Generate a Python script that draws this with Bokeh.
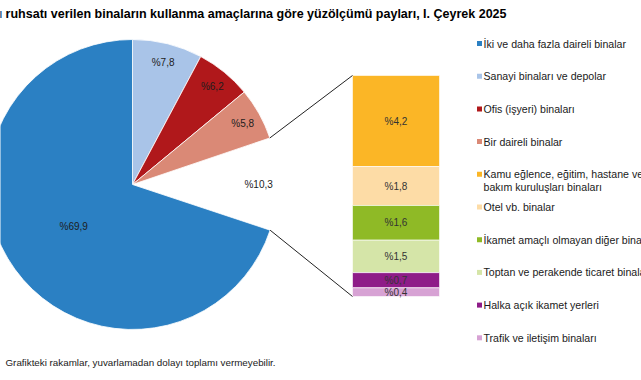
import math
from bokeh.plotting import figure
from bokeh.models import Range1d, ColumnDataSource
from bokeh.core.properties import value
from bokeh.embed import file_html
from bokeh.resources import INLINE

# ---------------- data ----------------
title_text = "Yapı ruhsatı verilen binaların kullanma amaçlarına göre yüzölçümü payları, I. Çeyrek 2025"
footnote_text = "Grafikteki rakamlar, yuvarlamadan dolayı toplamı vermeyebilir."

# pie slices, clockwise from 12 o'clock
pie_names = ["Sanayi binaları ve depolar", "Ofis (işyeri) binaları", "Bir daireli binalar",
             "Diğer", "İki ve daha fazla daireli binalar"]
pie_values = [7.8, 6.2, 5.8, 10.3, 69.9]
pie_colors = ["#A9C4E8", "#B0181B", "#DA8976", None, "#2B80C3"]

# breakdown of "Diğer" (top to bottom)
bar_names = ["Kamu eğlence, eğitim, hastane ve\nbakım kuruluşları binaları", "Otel vb. binalar",
             "İkamet amaçlı olmayan diğer binalar", "Toptan ve perakende ticaret binaları",
             "Halka açık ikamet yerleri", "Trafik ve iletişim binaları"]
bar_values = [4.2, 1.8, 1.6, 1.5, 0.7, 0.4]
bar_colors = ["#FBB626", "#FDDCA6", "#8FBA26", "#D5E5A8", "#8E1C88", "#D7A2D4"]

legend_names = ["İki ve daha fazla daireli binalar", "Sanayi binaları ve depolar",
                "Ofis (işyeri) binaları", "Bir daireli binalar"] + bar_names
legend_colors = ["#2B80C3", "#A9C4E8", "#B0181B", "#DA8976"] + bar_colors


def fmt(v):
    return "%" + f"{v:.1f}".replace(".", ",")


FONT = "Liberation Sans"
W, H = 641, 380

p = figure(width=W, height=H, x_range=Range1d(0, W), y_range=Range1d(0, H),
           output_backend="svg", toolbar_location=None, min_border=0,
           x_axis_type=None, y_axis_type=None, outline_line_color=None)
p.grid.visible = False

# ---------------- pie ----------------
cx, cy, R = 132, 196, 145
total = sum(pie_values)
starts, ends, lx, ly = [], [], [], []
cum = 0.0
for v in pie_values:
    a0 = 90 - cum / total * 360
    a1 = 90 - (cum + v) / total * 360
    starts.append(a0)
    ends.append(a1)
    mid = math.radians((a0 + a1) / 2)
    r = 0.5 * R if v / total > 0.5 else 0.87 * R
    lx.append(cx + r * math.cos(mid))
    ly.append(cy + r * math.sin(mid))
    cum += v

filled = [i for i, c in enumerate(pie_colors) if c]
wsrc = ColumnDataSource(dict(
    start=[starts[i] for i in filled], end=[ends[i] for i in filled],
    color=[pie_colors[i] for i in filled]))
p.wedge(x=cx, y=cy, radius=R, start_angle="start", end_angle="end",
        start_angle_units="deg", end_angle_units="deg", direction="clock",
        fill_color="color", line_color="white", line_width=0.8, source=wsrc)

p.text(x=lx, y=ly, text=[fmt(v) for v in pie_values], text_font=value(FONT),
       text_font_size="10px", text_color="#1d1d1d", text_align="center",
       text_baseline="middle")

# ---------------- stacked bar ----------------
bar_x0, bar_x1 = 352, 439
bar_bottom_px, bar_top_px = 84, 305
btotal = sum(bar_values)
scale = (bar_top_px - bar_bottom_px) / btotal
p.extra_y_ranges = {"bar": Range1d(-bar_bottom_px / scale, (H - bar_bottom_px) / scale)}

tops, bottoms = [], []
acc = btotal
for v in bar_values:
    tops.append(acc)
    bottoms.append(acc - v)
    acc -= v
p.quad(left=bar_x0, right=bar_x1, top=tops, bottom=bottoms, fill_color=bar_colors,
       line_color="white", line_width=0.6, y_range_name="bar")
p.text(x=(bar_x0 + bar_x1) / 2, y=[(t + b) / 2 for t, b in zip(tops, bottoms)],
       text=[fmt(v) for v in bar_values], text_font=value(FONT), text_font_size="10px",
       text_color="#333333", text_align="center", text_baseline="middle",
       y_range_name="bar")

# connector lines from the "Diğer" slice to the bar
oi = pie_names.index("Diğer")
a_top = math.radians(starts[oi])
a_bot = math.radians(ends[oi])
p.segment(x0=[cx + R * math.cos(a_top), cx + R * math.cos(a_bot)],
          y0=[cy + R * math.sin(a_top), cy + R * math.sin(a_bot)],
          x1=[bar_x0, bar_x0], y1=[bar_top_px, bar_bottom_px],
          line_color="#222222", line_width=1)

# ---------------- legend ----------------
leg_x, leg_y0, leg_dy = 479, H - 43, 32.7
my, ty = [], []
for i, name in enumerate(legend_names):
    y = leg_y0 - i * leg_dy
    my.append(y)
    nlines = name.count("\n") + 1
    ty.append(y - (nlines - 1) * 6)
p.rect(x=leg_x, y=my, width=5, height=5, fill_color=legend_colors, line_color=None)
p.text(x=leg_x + 4, y=ty, text=legend_names, text_font=value(FONT), text_font_size="10.6px",
       text_color="#1a1a1a", text_align="left", text_baseline="middle",
       text_line_height=1.12)

# ---------------- title / footnote ----------------
p.text(x=[506], y=[H - 13], text=[title_text],
       text_font=value(FONT), text_font_style="bold",
       text_font_size="12.5px", text_color="#000000", text_align="right",
       text_baseline="middle")
p.text(x=[5], y=[H - 362], text=[footnote_text], text_font=value(FONT),
       text_font_size="9.8px", text_color="#1a1a1a", text_align="left",
       text_baseline="middle")

open("out.html", "w").write(file_html(p, INLINE))
